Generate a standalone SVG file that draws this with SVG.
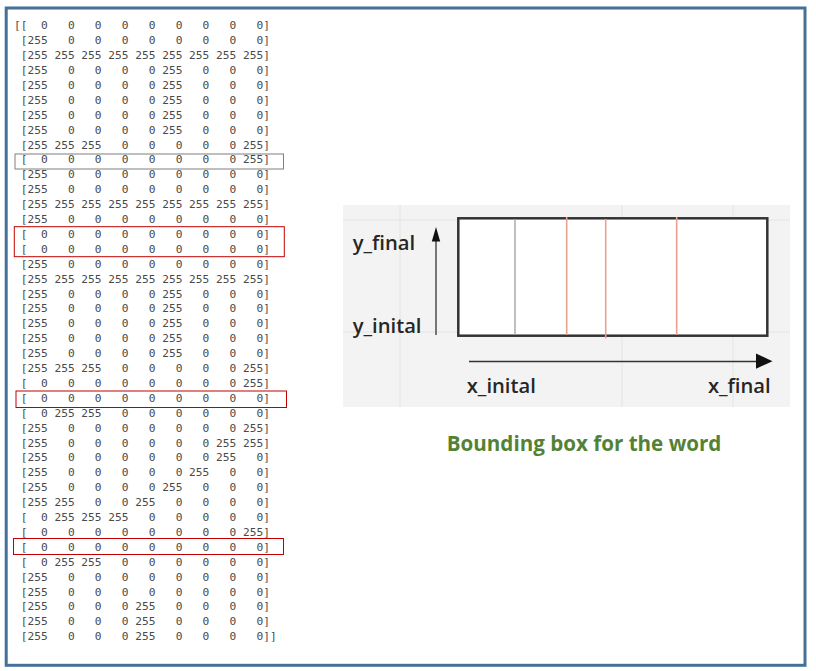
<svg xmlns="http://www.w3.org/2000/svg" width="816" height="671" viewBox="0 0 816 671">
<style>
.m{font-family:"DejaVu Sans Mono","Liberation Mono",monospace;font-size:11.2px;fill:#4a4a4a;white-space:pre}
.lbl{font-family:"Open Sans","Noto Sans",sans-serif;font-weight:600;font-size:20.2px;fill:#262626}
.cap{font-family:"Open Sans","Noto Sans",sans-serif;font-weight:700;font-size:20.6px;fill:#548235}
.grid{stroke:#e4e4e4;stroke-width:1}
.red{stroke:#e9a090;stroke-width:1.6}
.hl{fill:none;stroke:#c00000;stroke-width:1}
</style>
<rect width="816" height="671" fill="#ffffff"/>
<rect id="frame" x="6.2" y="8" width="798.8" height="657.3" fill="#ffffff" stroke="#45709a" stroke-width="3"/>
<g id="matrix" class="m">
<text x="14" y="29.3">[[&#160;&#160;0&#160;&#160;&#160;0&#160;&#160;&#160;0&#160;&#160;&#160;0&#160;&#160;&#160;0&#160;&#160;&#160;0&#160;&#160;&#160;0&#160;&#160;&#160;0&#160;&#160;&#160;0]</text>
<text x="14" y="44.2">&#160;[255&#160;&#160;&#160;0&#160;&#160;&#160;0&#160;&#160;&#160;0&#160;&#160;&#160;0&#160;&#160;&#160;0&#160;&#160;&#160;0&#160;&#160;&#160;0&#160;&#160;&#160;0]</text>
<text x="14" y="59.1">&#160;[255&#160;255&#160;255&#160;255&#160;255&#160;255&#160;255&#160;255&#160;255]</text>
<text x="14" y="74.0">&#160;[255&#160;&#160;&#160;0&#160;&#160;&#160;0&#160;&#160;&#160;0&#160;&#160;&#160;0&#160;255&#160;&#160;&#160;0&#160;&#160;&#160;0&#160;&#160;&#160;0]</text>
<text x="14" y="88.9">&#160;[255&#160;&#160;&#160;0&#160;&#160;&#160;0&#160;&#160;&#160;0&#160;&#160;&#160;0&#160;255&#160;&#160;&#160;0&#160;&#160;&#160;0&#160;&#160;&#160;0]</text>
<text x="14" y="103.8">&#160;[255&#160;&#160;&#160;0&#160;&#160;&#160;0&#160;&#160;&#160;0&#160;&#160;&#160;0&#160;255&#160;&#160;&#160;0&#160;&#160;&#160;0&#160;&#160;&#160;0]</text>
<text x="14" y="118.7">&#160;[255&#160;&#160;&#160;0&#160;&#160;&#160;0&#160;&#160;&#160;0&#160;&#160;&#160;0&#160;255&#160;&#160;&#160;0&#160;&#160;&#160;0&#160;&#160;&#160;0]</text>
<text x="14" y="133.6">&#160;[255&#160;&#160;&#160;0&#160;&#160;&#160;0&#160;&#160;&#160;0&#160;&#160;&#160;0&#160;255&#160;&#160;&#160;0&#160;&#160;&#160;0&#160;&#160;&#160;0]</text>
<text x="14" y="148.5">&#160;[255&#160;255&#160;255&#160;&#160;&#160;0&#160;&#160;&#160;0&#160;&#160;&#160;0&#160;&#160;&#160;0&#160;&#160;&#160;0&#160;255]</text>
<text x="14" y="163.4">&#160;[&#160;&#160;0&#160;&#160;&#160;0&#160;&#160;&#160;0&#160;&#160;&#160;0&#160;&#160;&#160;0&#160;&#160;&#160;0&#160;&#160;&#160;0&#160;&#160;&#160;0&#160;255]</text>
<text x="14" y="178.3">&#160;[255&#160;&#160;&#160;0&#160;&#160;&#160;0&#160;&#160;&#160;0&#160;&#160;&#160;0&#160;&#160;&#160;0&#160;&#160;&#160;0&#160;&#160;&#160;0&#160;&#160;&#160;0]</text>
<text x="14" y="193.2">&#160;[255&#160;&#160;&#160;0&#160;&#160;&#160;0&#160;&#160;&#160;0&#160;&#160;&#160;0&#160;&#160;&#160;0&#160;&#160;&#160;0&#160;&#160;&#160;0&#160;&#160;&#160;0]</text>
<text x="14" y="208.1">&#160;[255&#160;255&#160;255&#160;255&#160;255&#160;255&#160;255&#160;255&#160;255]</text>
<text x="14" y="223.0">&#160;[255&#160;&#160;&#160;0&#160;&#160;&#160;0&#160;&#160;&#160;0&#160;&#160;&#160;0&#160;&#160;&#160;0&#160;&#160;&#160;0&#160;&#160;&#160;0&#160;&#160;&#160;0]</text>
<text x="14" y="237.9">&#160;[&#160;&#160;0&#160;&#160;&#160;0&#160;&#160;&#160;0&#160;&#160;&#160;0&#160;&#160;&#160;0&#160;&#160;&#160;0&#160;&#160;&#160;0&#160;&#160;&#160;0&#160;&#160;&#160;0]</text>
<text x="14" y="252.8">&#160;[&#160;&#160;0&#160;&#160;&#160;0&#160;&#160;&#160;0&#160;&#160;&#160;0&#160;&#160;&#160;0&#160;&#160;&#160;0&#160;&#160;&#160;0&#160;&#160;&#160;0&#160;&#160;&#160;0]</text>
<text x="14" y="267.7">&#160;[255&#160;&#160;&#160;0&#160;&#160;&#160;0&#160;&#160;&#160;0&#160;&#160;&#160;0&#160;&#160;&#160;0&#160;&#160;&#160;0&#160;&#160;&#160;0&#160;&#160;&#160;0]</text>
<text x="14" y="282.6">&#160;[255&#160;255&#160;255&#160;255&#160;255&#160;255&#160;255&#160;255&#160;255]</text>
<text x="14" y="297.5">&#160;[255&#160;&#160;&#160;0&#160;&#160;&#160;0&#160;&#160;&#160;0&#160;&#160;&#160;0&#160;255&#160;&#160;&#160;0&#160;&#160;&#160;0&#160;&#160;&#160;0]</text>
<text x="14" y="312.4">&#160;[255&#160;&#160;&#160;0&#160;&#160;&#160;0&#160;&#160;&#160;0&#160;&#160;&#160;0&#160;255&#160;&#160;&#160;0&#160;&#160;&#160;0&#160;&#160;&#160;0]</text>
<text x="14" y="327.3">&#160;[255&#160;&#160;&#160;0&#160;&#160;&#160;0&#160;&#160;&#160;0&#160;&#160;&#160;0&#160;255&#160;&#160;&#160;0&#160;&#160;&#160;0&#160;&#160;&#160;0]</text>
<text x="14" y="342.2">&#160;[255&#160;&#160;&#160;0&#160;&#160;&#160;0&#160;&#160;&#160;0&#160;&#160;&#160;0&#160;255&#160;&#160;&#160;0&#160;&#160;&#160;0&#160;&#160;&#160;0]</text>
<text x="14" y="357.1">&#160;[255&#160;&#160;&#160;0&#160;&#160;&#160;0&#160;&#160;&#160;0&#160;&#160;&#160;0&#160;255&#160;&#160;&#160;0&#160;&#160;&#160;0&#160;&#160;&#160;0]</text>
<text x="14" y="372.0">&#160;[255&#160;255&#160;255&#160;&#160;&#160;0&#160;&#160;&#160;0&#160;&#160;&#160;0&#160;&#160;&#160;0&#160;&#160;&#160;0&#160;255]</text>
<text x="14" y="386.9">&#160;[&#160;&#160;0&#160;&#160;&#160;0&#160;&#160;&#160;0&#160;&#160;&#160;0&#160;&#160;&#160;0&#160;&#160;&#160;0&#160;&#160;&#160;0&#160;&#160;&#160;0&#160;255]</text>
<text x="14" y="401.8">&#160;[&#160;&#160;0&#160;&#160;&#160;0&#160;&#160;&#160;0&#160;&#160;&#160;0&#160;&#160;&#160;0&#160;&#160;&#160;0&#160;&#160;&#160;0&#160;&#160;&#160;0&#160;&#160;&#160;0]</text>
<text x="14" y="416.7">&#160;[&#160;&#160;0&#160;255&#160;255&#160;&#160;&#160;0&#160;&#160;&#160;0&#160;&#160;&#160;0&#160;&#160;&#160;0&#160;&#160;&#160;0&#160;&#160;&#160;0]</text>
<text x="14" y="431.6">&#160;[255&#160;&#160;&#160;0&#160;&#160;&#160;0&#160;&#160;&#160;0&#160;&#160;&#160;0&#160;&#160;&#160;0&#160;&#160;&#160;0&#160;&#160;&#160;0&#160;255]</text>
<text x="14" y="446.5">&#160;[255&#160;&#160;&#160;0&#160;&#160;&#160;0&#160;&#160;&#160;0&#160;&#160;&#160;0&#160;&#160;&#160;0&#160;&#160;&#160;0&#160;255&#160;255]</text>
<text x="14" y="461.4">&#160;[255&#160;&#160;&#160;0&#160;&#160;&#160;0&#160;&#160;&#160;0&#160;&#160;&#160;0&#160;&#160;&#160;0&#160;&#160;&#160;0&#160;255&#160;&#160;&#160;0]</text>
<text x="14" y="476.3">&#160;[255&#160;&#160;&#160;0&#160;&#160;&#160;0&#160;&#160;&#160;0&#160;&#160;&#160;0&#160;&#160;&#160;0&#160;255&#160;&#160;&#160;0&#160;&#160;&#160;0]</text>
<text x="14" y="491.2">&#160;[255&#160;&#160;&#160;0&#160;&#160;&#160;0&#160;&#160;&#160;0&#160;&#160;&#160;0&#160;255&#160;&#160;&#160;0&#160;&#160;&#160;0&#160;&#160;&#160;0]</text>
<text x="14" y="506.1">&#160;[255&#160;255&#160;&#160;&#160;0&#160;&#160;&#160;0&#160;255&#160;&#160;&#160;0&#160;&#160;&#160;0&#160;&#160;&#160;0&#160;&#160;&#160;0]</text>
<text x="14" y="521.0">&#160;[&#160;&#160;0&#160;255&#160;255&#160;255&#160;&#160;&#160;0&#160;&#160;&#160;0&#160;&#160;&#160;0&#160;&#160;&#160;0&#160;&#160;&#160;0]</text>
<text x="14" y="535.9">&#160;[&#160;&#160;0&#160;&#160;&#160;0&#160;&#160;&#160;0&#160;&#160;&#160;0&#160;&#160;&#160;0&#160;&#160;&#160;0&#160;&#160;&#160;0&#160;&#160;&#160;0&#160;255]</text>
<text x="14" y="550.8">&#160;[&#160;&#160;0&#160;&#160;&#160;0&#160;&#160;&#160;0&#160;&#160;&#160;0&#160;&#160;&#160;0&#160;&#160;&#160;0&#160;&#160;&#160;0&#160;&#160;&#160;0&#160;&#160;&#160;0]</text>
<text x="14" y="565.7">&#160;[&#160;&#160;0&#160;255&#160;255&#160;&#160;&#160;0&#160;&#160;&#160;0&#160;&#160;&#160;0&#160;&#160;&#160;0&#160;&#160;&#160;0&#160;&#160;&#160;0]</text>
<text x="14" y="580.6">&#160;[255&#160;&#160;&#160;0&#160;&#160;&#160;0&#160;&#160;&#160;0&#160;&#160;&#160;0&#160;&#160;&#160;0&#160;&#160;&#160;0&#160;&#160;&#160;0&#160;&#160;&#160;0]</text>
<text x="14" y="595.5">&#160;[255&#160;&#160;&#160;0&#160;&#160;&#160;0&#160;&#160;&#160;0&#160;&#160;&#160;0&#160;&#160;&#160;0&#160;&#160;&#160;0&#160;&#160;&#160;0&#160;&#160;&#160;0]</text>
<text x="14" y="610.4">&#160;[255&#160;&#160;&#160;0&#160;&#160;&#160;0&#160;&#160;&#160;0&#160;255&#160;&#160;&#160;0&#160;&#160;&#160;0&#160;&#160;&#160;0&#160;&#160;&#160;0]</text>
<text x="14" y="625.3">&#160;[255&#160;&#160;&#160;0&#160;&#160;&#160;0&#160;&#160;&#160;0&#160;255&#160;&#160;&#160;0&#160;&#160;&#160;0&#160;&#160;&#160;0&#160;&#160;&#160;0]</text>
<text x="14" y="640.2">&#160;[255&#160;&#160;&#160;0&#160;&#160;&#160;0&#160;&#160;&#160;0&#160;255&#160;&#160;&#160;0&#160;&#160;&#160;0&#160;&#160;&#160;0&#160;&#160;&#160;0]]</text>
</g>
<g id="highlights">
<rect x="15" y="154" width="268.5" height="15" fill="none" stroke="#7f7f7f" stroke-width="1"/>
<rect class="hl" x="14.3" y="226.7" width="270" height="30"/>
<rect class="hl" x="16" y="391" width="270.5" height="16.5"/>
<rect class="hl" x="13.5" y="538.5" width="270" height="16"/>
</g>
<g id="panel">
<rect x="343" y="205" width="447" height="202" fill="#f3f3f3"/>
<line class="grid" x1="343" y1="220" x2="790" y2="220"/>
<line class="grid" x1="343" y1="332" x2="790" y2="332"/>
<line class="grid" x1="400" y1="205" x2="400" y2="407"/>
<line class="grid" x1="622" y1="205" x2="622" y2="407"/>
<line class="grid" x1="733" y1="205" x2="733" y2="407"/>
</g>
<g id="bbox">
<rect x="458.3" y="218.3" width="309" height="117.4" fill="#ffffff" stroke="#333333" stroke-width="2.5"/>
<line x1="515" y1="219.5" x2="515" y2="334.5" stroke="#b0b0b0" stroke-width="1.6"/>
<line class="red" x1="566.7" y1="217" x2="566.7" y2="335"/>
<line class="red" x1="605.7" y1="219" x2="605.7" y2="338.5"/>
<line class="red" x1="676.7" y1="217" x2="676.7" y2="335"/>
</g>
<g id="connectors">
<line x1="436" y1="335" x2="436" y2="240" stroke="#333333" stroke-width="1.3"/>
<polygon points="436,227 431.8,241.5 440.2,241.5" fill="#111111"/>
<line x1="469" y1="361.5" x2="758" y2="361.5" stroke="#333333" stroke-width="1.5"/>
<polygon points="772.5,361.2 756,353.5 756,368.8" fill="#111111"/>
</g>
<g id="labels">
<text class="lbl" x="352.7" y="250">y_final</text>
<text class="lbl" x="352.7" y="333">y_inital</text>
<text class="lbl" x="466.7" y="393">x_inital</text>
<text class="lbl" x="770.7" y="393" text-anchor="end">x_final</text>
</g>
<g id="caption">
<text class="cap" x="446.7" y="451">Bounding box for the word</text>
</g>
</svg>
